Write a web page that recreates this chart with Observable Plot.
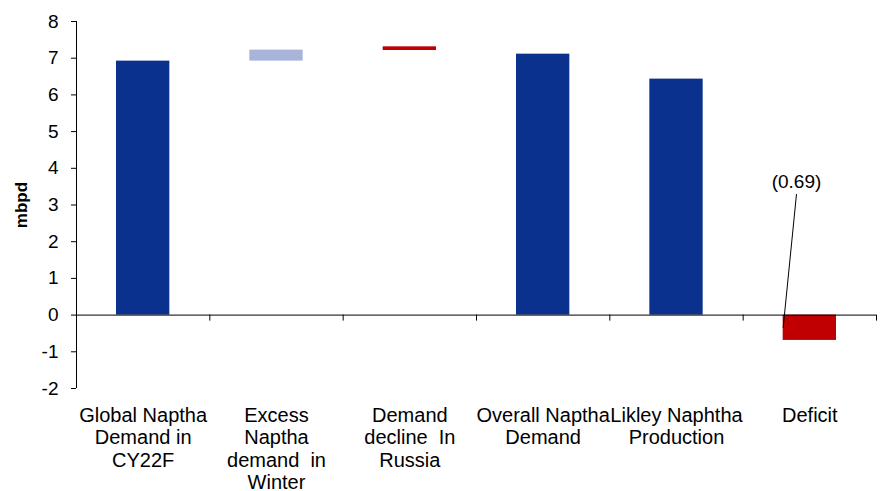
<!DOCTYPE html>
<html>
<head>
<meta charset="utf-8">
<script src="https://cdn.jsdelivr.net/npm/d3@7"></script>
<script src="https://cdn.jsdelivr.net/npm/@observablehq/plot@0.6"></script>
<style>
  html, body { margin: 0; padding: 0; background: #fff; }
  svg text { white-space: pre; }
</style>
</head>
<body>
<div id="chart"></div>
<script>
// Categories (x axis labels, with manual line breaks as in the reference)
const categories = [
  "Global Naptha\nDemand in\nCY22F",
  "Excess\nNaptha\ndemand  in\nWinter",
  "Demand\ndecline  In\nRussia",
  "Overall Naptha\nDemand",
  "Likley Naphtha\nProduction",
  "Deficit"
];
// Waterfall bar start / end values (mbpd)
const barStart = [0, 6.92, 7.21, 0, 0, 0];
const barEnd   = [6.92, 7.22, 7.31, 7.11, 6.43, -0.69];
const barKind  = ["total", "increase", "decrease", "total", "total", "deficit"];
// Y ticks
const yTicks = [-2, -1, 0, 1, 2, 3, 4, 5, 6, 7, 8];
// Annotation for deficit
const annotation = [{label: "(0.69)", value: -0.69, x: 5.4, y: 3.3}];

const kindColors = {total: "#0B318F", increase: "#A8B4D8", decrease: "#C00000", deficit: "#C00000"};
const idx = categories.map((_, i) => i);
const boundaries = d3.range(1, categories.length + 1);
const font = "'Liberation Sans', Arial, Helvetica, sans-serif";

const chart = Plot.plot({
  width: 888,
  height: 491,
  marginLeft: 76,
  marginRight: 12,
  marginTop: 21,
  marginBottom: 103,
  style: {fontFamily: font, fontSize: "19px", color: "#000", background: "#fff"},
  x: {type: "linear", domain: [0, categories.length], axis: null},
  y: {domain: [-2, 8], axis: null},
  marks: [
    Plot.rect(idx, {
      x1: i => i + 0.3, x2: i => i + 0.7,
      y1: i => barStart[i], y2: i => barEnd[i],
      fill: i => kindColors[barKind[i]]
    }),
    // y axis line and ticks
    Plot.ruleX([0], {y1: -2, y2: 8, stroke: "#000", strokeWidth: 1}),
    Plot.axisY(yTicks, {tickSize: 5, tickPadding: 13, fontSize: 19, stroke: "#000", label: null, tickFormat: d => String(d)}),
    // zero baseline with category boundary ticks
    Plot.ruleY([0], {stroke: "#000", strokeWidth: 1}),
    Plot.ruleX(boundaries, {y1: 0, y2: 0, insetBottom: -6, stroke: "#000", strokeWidth: 1}),
    // category labels
    Plot.text(categories, {
      x: (d, i) => i + 0.5, y: -2, lineAnchor: "top", dy: 17.5,
      fontSize: 20, lineHeight: 1.125, fill: "#000"
    }),
    // y label
    Plot.text(["mbpd"], {frameAnchor: "left", textAnchor: "middle", rotate: -90, dx: -55, fontWeight: "bold", fontSize: 17, fill: "#000"}),
    // annotation
    Plot.link(annotation, {x1: "x", y1: "y", x2: 5.3, y2: d => d.value / 2, stroke: "#000", strokeWidth: 1}),
    Plot.text(annotation, {x: "x", y: "y", text: "label", lineAnchor: "bottom", dy: -6, fontSize: 19, fill: "#000"})
  ]
});
document.getElementById("chart").appendChild(chart);
</script>
</body>
</html>
